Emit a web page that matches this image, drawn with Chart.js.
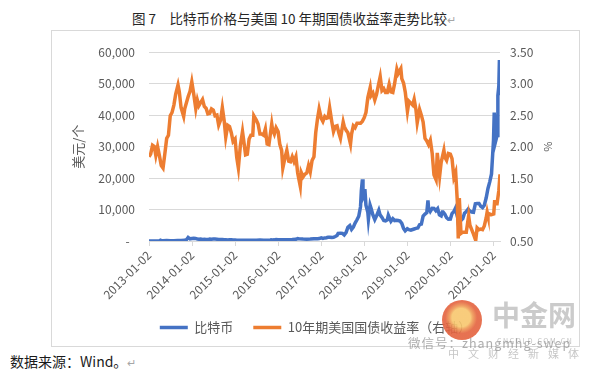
<!DOCTYPE html>
<html><head><meta charset="utf-8">
<script src="https://cdn.jsdelivr.net/npm/chart.js@4.4.1/dist/chart.umd.min.js"></script>
<style>
html,body{margin:0;padding:0;background:#fff;width:600px;height:373px;overflow:hidden;font-family:"Noto Sans CJK SC",sans-serif;}
#title{position:absolute;left:132px;top:8px;font-size:13.5px;line-height:20px;color:#262626;white-space:pre;}
.rm{color:#a6a6a6;font-size:11px;}
#box{position:absolute;left:51px;top:30px;width:527px;height:315px;border:1px solid #d9d9d9;}
#wrap{position:absolute;left:0;top:0;width:527px;height:315px;}
#src{position:absolute;left:10px;top:351px;font-size:14px;line-height:20px;color:#1a1a1a;white-space:pre;}
.wm{position:absolute;white-space:pre;pointer-events:none;}
#logo{left:442px;top:300px;width:40px;height:40px;border-radius:50%;background:radial-gradient(circle at 48% 44%,#f8c76e 0 30%,#ef9a55 38%,#e4633f 52%);opacity:.9;}
#wm1{left:492px;top:298px;font-size:28px;line-height:32px;font-weight:bold;color:rgba(160,160,160,.55);}
#wm2{left:497px;top:337px;font-size:7px;line-height:8px;letter-spacing:1.5px;color:rgba(150,150,150,.6);}
#wm3{left:408px;top:334px;font-size:12.5px;line-height:18px;letter-spacing:1px;color:rgba(140,140,140,.7);}
#wm4{left:448px;top:346px;font-size:11px;line-height:14px;letter-spacing:9px;color:rgba(160,160,160,.6);}
</style></head>
<body>
<div id="title">图 7　比特币价格与美国 10 年期国债收益率走势比较<span class="rm">↵</span></div>
<div id="box"><div id="wrap"><canvas id="c"></canvas></div></div>
<div id="src">数据来源：Wind。<span class="rm">↵</span></div>
<div class="wm" id="logo"></div>
<div class="wm" id="wm1">中金网</div>
<div class="wm" id="wm2">CNGOLD.COM.CN</div>
<div class="wm" id="wm3">微信号：zhangmhg-swep</div>
<div class="wm" id="wm4">中文财经新媒体</div>
<script>
const xTickLabels = ['2013-01-02','2014-01-02','2015-01-02','2016-01-02','2017-01-02','2018-01-02','2019-01-02','2020-01-02','2021-01-02'];
const seriesNames = ['比特币','10年期美国国债收益率（右轴）'];

const btcDates = ['2013-01-02','2013-02-01','2013-03-01','2013-04-01','2013-04-10','2013-04-16','2013-05-01','2013-06-01','2013-07-01','2013-08-01','2013-09-01','2013-10-01','2013-11-01','2013-11-16','2013-11-30','2013-12-16',
'2014-01-02','2014-01-16','2014-02-01','2014-02-16','2014-03-01','2014-03-16','2014-04-01','2014-04-16','2014-05-01','2014-05-16','2014-06-01','2014-06-16','2014-07-01','2014-07-16','2014-08-01','2014-08-16','2014-09-01','2014-09-16','2014-10-01','2014-10-16','2014-11-01','2014-11-16','2014-12-01','2014-12-16',
'2015-01-02','2015-01-16','2015-02-01','2015-03-01','2015-04-01','2015-05-01','2015-06-01','2015-07-01','2015-08-01','2015-09-01','2015-10-01','2015-11-01','2015-11-04','2015-11-16','2015-12-01','2015-12-16',
'2016-01-02','2016-02-01','2016-03-01','2016-04-01','2016-05-01','2016-06-01','2016-06-16','2016-07-01','2016-08-01','2016-09-01','2016-10-01','2016-11-01','2016-12-01','2016-12-16',
'2017-01-02','2017-01-16','2017-02-01','2017-02-16','2017-03-01','2017-03-16','2017-04-01','2017-04-16','2017-05-01','2017-05-16','2017-05-25','2017-06-01','2017-06-16','2017-07-01','2017-07-16','2017-08-01','2017-08-16','2017-09-01','2017-09-16','2017-10-01','2017-10-16','2017-11-01','2017-11-16','2017-12-01','2017-12-08','2017-12-17','2017-12-22',
'2018-01-02','2018-01-07','2018-01-16','2018-02-01','2018-02-06','2018-02-20','2018-03-01','2018-03-16','2018-04-01','2018-04-16','2018-05-05','2018-05-16','2018-06-01','2018-06-16','2018-07-01','2018-07-16','2018-07-25','2018-08-01','2018-08-16','2018-09-01','2018-09-16','2018-10-01','2018-10-16','2018-11-01','2018-11-16','2018-12-01','2018-12-15',
'2019-01-02','2019-01-16','2019-02-01','2019-02-16','2019-03-01','2019-03-16','2019-04-01','2019-04-16','2019-05-01','2019-05-16','2019-06-01','2019-06-16','2019-06-26','2019-07-01','2019-07-16','2019-08-01','2019-08-16','2019-09-01','2019-09-16','2019-10-01','2019-10-16','2019-10-26','2019-11-01','2019-11-16','2019-12-01','2019-12-16',
'2020-01-02','2020-01-16','2020-02-01','2020-02-13','2020-02-16','2020-03-01','2020-03-12','2020-03-16','2020-04-01','2020-04-16','2020-05-01','2020-05-16','2020-06-01','2020-06-16','2020-07-01','2020-07-16','2020-08-01','2020-08-16','2020-09-01','2020-09-16','2020-10-01','2020-10-16','2020-11-01','2020-11-16','2020-12-01','2020-12-16',
'2021-01-02','2021-01-08','2021-01-16','2021-01-22','2021-02-01','2021-02-08','2021-02-16','2021-02-21','2021-02-26'];
const btcPrice = [13,20,34,104,230,83,117,129,88,105,138,125,204,420,1130,690,
800,850,820,620,560,630,470,520,450,450,630,590,640,620,590,490,480,460,380,390,330,390,380,330,
315,210,225,255,245,235,223,258,280,230,237,325,400,330,360,455,
434,372,433,417,450,536,765,676,606,572,615,728,753,780,
1020,830,985,1040,1220,1170,1080,1180,1420,1750,2400,2400,2450,2430,1930,2730,4380,4890,3700,4400,5700,6740,7870,10900,16000,19600,13800,
14750,16500,11400,9100,6900,11400,10300,8300,6800,8000,9800,8300,7500,6500,6400,6700,8200,7600,6300,7100,6500,6600,6500,6350,5600,4000,3230,
3900,3600,3450,3650,3820,4020,4140,5200,5350,7900,8550,9000,12900,10600,9430,10400,10350,9630,10270,8300,8000,9250,9250,8500,7400,6900,
6970,8720,9390,10350,9900,8550,4950,5030,6640,7100,8860,9380,10170,9450,9230,9130,11800,11900,11930,11000,10620,11350,13740,16700,18800,21300,
32100,40800,36000,32000,33500,46300,49200,57500,46300];

const yieldDates = ['2013-01-02','2013-01-16','2013-02-01','2013-02-16','2013-03-01','2013-03-16','2013-04-01','2013-04-16','2013-05-01','2013-05-16','2013-06-01','2013-06-16','2013-07-01','2013-07-16','2013-08-01','2013-08-16','2013-09-05','2013-09-16','2013-10-01','2013-10-23','2013-11-01','2013-11-16','2013-12-01','2013-12-16','2013-12-31',
'2014-01-16','2014-02-03','2014-02-16','2014-03-01','2014-03-16','2014-04-01','2014-04-16','2014-05-01','2014-05-16','2014-06-01','2014-06-16','2014-07-01','2014-07-16','2014-08-01','2014-08-16','2014-09-01','2014-09-16','2014-10-01','2014-10-15','2014-11-01','2014-11-16','2014-12-01','2014-12-16',
'2015-01-02','2015-01-16','2015-01-30','2015-02-16','2015-03-06','2015-03-16','2015-04-01','2015-04-16','2015-05-01','2015-05-16','2015-06-01','2015-06-10','2015-07-01','2015-07-16','2015-08-01','2015-08-16','2015-09-01','2015-09-16','2015-10-01','2015-10-16','2015-11-09','2015-11-16','2015-12-01','2015-12-16',
'2016-01-02','2016-01-16','2016-02-01','2016-02-11','2016-03-01','2016-03-16','2016-04-01','2016-04-16','2016-05-01','2016-05-16','2016-06-01','2016-06-16','2016-07-08','2016-07-16','2016-08-01','2016-08-16','2016-09-01','2016-09-16','2016-10-01','2016-10-16','2016-11-01','2016-11-16','2016-12-01','2016-12-15',
'2017-01-02','2017-01-16','2017-02-01','2017-02-16','2017-03-01','2017-03-14','2017-04-01','2017-04-16','2017-05-01','2017-05-16','2017-06-01','2017-06-14','2017-07-07','2017-07-16','2017-08-01','2017-08-16','2017-09-07','2017-09-16','2017-10-01','2017-10-16','2017-11-01','2017-11-16','2017-12-01','2017-12-16',
'2018-01-02','2018-01-16','2018-02-01','2018-02-21','2018-03-01','2018-03-16','2018-04-01','2018-04-16','2018-05-01','2018-05-17','2018-06-01','2018-06-16','2018-07-01','2018-07-16','2018-08-01','2018-08-16','2018-09-01','2018-09-16','2018-10-05','2018-10-16','2018-11-08','2018-11-16','2018-12-01','2018-12-16',
'2019-01-03','2019-01-16','2019-02-01','2019-02-16','2019-03-01','2019-03-16','2019-03-27','2019-04-16','2019-05-01','2019-05-16','2019-06-01','2019-06-16','2019-07-01','2019-07-16','2019-08-01','2019-08-16','2019-09-03','2019-09-13','2019-10-03','2019-10-16','2019-11-08','2019-11-16','2019-12-01','2019-12-16',
'2020-01-02','2020-01-16','2020-02-01','2020-02-16','2020-03-01','2020-03-09','2020-03-18','2020-04-01','2020-04-16','2020-05-01','2020-05-16','2020-06-05','2020-06-16','2020-07-01','2020-07-16','2020-08-04','2020-08-16','2020-09-01','2020-09-16','2020-10-01','2020-10-16','2020-11-01','2020-11-09','2020-11-16','2020-12-01','2020-12-16',
'2021-01-04','2021-01-12','2021-01-16','2021-02-01','2021-02-16','2021-02-26'];
const yieldPct = [1.84,1.88,2.02,2.00,1.86,2.00,1.85,1.70,1.66,1.88,2.13,2.18,2.49,2.54,2.66,2.83,2.98,2.87,2.62,2.48,2.60,2.70,2.80,2.88,3.03,
2.84,2.60,2.74,2.65,2.70,2.75,2.64,2.61,2.52,2.53,2.60,2.58,2.49,2.50,2.34,2.42,2.62,2.42,2.15,2.34,2.32,2.22,2.08,
2.12,1.83,1.66,2.02,2.24,2.10,1.87,1.88,2.12,2.18,2.18,2.49,2.42,2.36,2.20,2.20,2.18,2.28,2.04,2.03,2.36,2.27,2.20,2.30,
2.24,2.04,1.94,1.66,1.83,1.94,1.77,1.76,1.84,1.76,1.84,1.58,1.37,1.59,1.52,1.56,1.58,1.70,1.60,1.78,1.84,2.22,2.44,2.60,
2.45,2.40,2.48,2.45,2.46,2.62,2.40,2.24,2.32,2.33,2.21,2.13,2.39,2.32,2.26,2.22,2.04,2.20,2.33,2.30,2.37,2.37,2.37,2.40,
2.46,2.54,2.78,2.94,2.81,2.85,2.74,2.83,2.97,3.11,2.89,2.92,2.86,2.86,2.99,2.87,2.86,3.00,3.23,3.16,3.24,3.08,3.01,2.86,
2.56,2.72,2.69,2.66,2.75,2.59,2.38,2.59,2.50,2.39,2.13,2.09,2.03,2.10,1.89,1.55,1.47,1.90,1.53,1.75,1.94,1.83,1.78,1.89,
1.88,1.81,1.51,1.59,1.13,0.54,1.18,0.62,0.64,0.64,0.64,0.90,0.75,0.68,0.61,0.51,0.71,0.68,0.69,0.68,0.74,0.87,0.96,0.90,0.93,0.92,
0.93,1.15,1.09,1.09,1.30,1.56];

const FONT = '"Noto Sans CJK SC", sans-serif';
const GREY = '#595959';
const toDay = s => Date.UTC(+s.slice(0,4), +s.slice(5,7)-1, +s.slice(8,10)) / 86400000;
const dayToLabel = {};
xTickLabels.forEach(s => { dayToLabel[toDay(s)] = s; });

new Chart(document.getElementById('c'), {
  type: 'line',
  data: {
    datasets: [
      { label: seriesNames[0], data: btcDates.map((d,i)=>({x: toDay(d), y: btcPrice[i]})),
        borderColor: '#4472C4', backgroundColor: '#4472C4', borderWidth: 3.5, pointRadius: 0, tension: 0, yAxisID: 'y', order: 1 },
      { label: seriesNames[1], data: yieldDates.map((d,i)=>({x: toDay(d), y: yieldPct[i]})),
        borderColor: '#ED7D31', backgroundColor: '#ED7D31', borderWidth: 3.5, pointRadius: 0, tension: 0, yAxisID: 'y1', order: 0 }
    ]
  },
  options: {
    responsive: true, maintainAspectRatio: false, animation: false,
    layout: { padding: { left: 0, right: 0, top: 15, bottom: 2 } },
    plugins: {
      tooltip: { enabled: false },
      legend: {
        position: 'bottom',
        labels: {
          usePointStyle: true, pointStyle: 'line', pointStyleWidth: 28,
          font: { family: FONT, size: 13 }, color: GREY, padding: 20,
          sort: (a, b) => a.datasetIndex - b.datasetIndex
        }
      }
    },
    scales: {
      x: {
        type: 'linear',
        min: toDay(btcDates[0]), max: toDay(btcDates[btcDates.length-1]),
        afterBuildTicks: s => { s.ticks = xTickLabels.map(d => ({ value: toDay(d) })); },
        afterFit: s => { s.height = 60; },
        ticks: { autoSkip: false, maxRotation: 45, minRotation: 45, padding: 2,
                 font: { family: FONT, size: 12 }, color: GREY,
                 callback: v => dayToLabel[v] || '' },
        grid: { drawOnChartArea: false, drawTicks: true, tickLength: 5, color: '#d9d9d9' },
        border: { display: true, color: '#d9d9d9' }
      },
      y: {
        position: 'left', min: 0, max: 60000,
        afterFit: s => { s.width = 97; },
        ticks: { stepSize: 10000, padding: 14, font: { family: FONT, size: 12 }, color: GREY,
                 callback: v => v === 0 ? '-  ' : v.toLocaleString('en-US') },
        grid: { color: '#d9d9d9', drawTicks: false },
        border: { display: false },
        title: { display: true, text: '美元/个', font: { family: FONT, size: 13 }, color: GREY, padding: { top: 18, bottom: 0 } }
      },
      y1: {
        position: 'right', min: 0.5, max: 3.5,
        afterFit: s => { s.width = 79; },
        ticks: { stepSize: 0.5, padding: 10, font: { family: FONT, size: 12 }, color: GREY,
                 callback: v => v.toFixed(2) },
        grid: { display: false, drawTicks: false },
        border: { display: false },
        title: { display: true, text: '%', font: { family: FONT, size: 11 }, color: GREY, padding: { top: 24, bottom: 0 } }
      }
    }
  }
});
</script>
</body></html>
